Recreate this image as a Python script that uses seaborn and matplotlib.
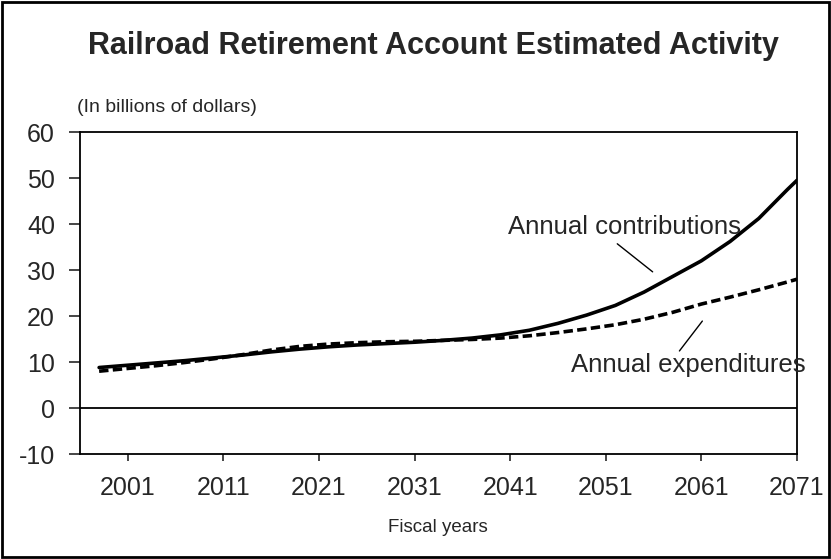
import matplotlib
matplotlib.use("Agg")
import matplotlib.pyplot as plt
from matplotlib.patches import Rectangle
import pandas as pd
import seaborn as sns

# values (billions of dollars)
years = [1998, 2001, 2004, 2007, 2010, 2013, 2016, 2019, 2022, 2025, 2028, 2031, 2034,
         2037, 2040, 2043, 2046, 2049, 2052, 2055, 2058, 2061, 2064, 2067, 2070, 2071]
contributions = [8.8, 9.3, 9.8, 10.3, 10.9, 11.5, 12.2, 12.8, 13.3, 13.7, 14.0, 14.3, 14.7,
                 15.2, 15.9, 16.9, 18.4, 20.2, 22.3, 25.2, 28.6, 32.0, 36.2, 41.2, 47.5, 49.5]
expenditures = [8.0, 8.6, 9.2, 9.9, 10.7, 11.6, 12.6, 13.4, 13.9, 14.2, 14.4, 14.5, 14.7,
                14.9, 15.2, 15.7, 16.4, 17.2, 18.1, 19.3, 20.8, 22.6, 24.1, 25.7, 27.4, 28.0]
x_ticks = [2001, 2011, 2021, 2031, 2041, 2051, 2061, 2071]
y_ticks = [-10, 0, 10, 20, 30, 40, 50, 60]

df = pd.DataFrame({"year": years, "contrib": contributions, "expend": expenditures})

sns.set_style("white")
plt.rcParams["font.family"] = ["Liberation Sans", "DejaVu Sans"]
plt.rcParams["axes.unicode_minus"] = False

fig = plt.figure(figsize=(8.31, 5.59), dpi=100)
ax = fig.add_axes([80 / 831, 1 - 454 / 559, 717 / 831, 322 / 559])

sns.lineplot(data=df, x="year", y="contrib", ax=ax, color="black", linewidth=2.6)
sns.lineplot(data=df, x="year", y="expend", ax=ax, color="black", linewidth=2.6)
ax.lines[-1].set_dashes((2.6, 1.2))
ax.lines[-1].set_dash_capstyle("butt")
ax.axhline(0, color="black", linewidth=1.3)

ax.set_xlim(1996, 2071)
ax.set_ylim(-10, 60)
ax.set_xticks(x_ticks)
ax.set_yticks(y_ticks)
ax.tick_params(axis="y", direction="out", length=8, width=1.2, pad=10, labelsize=18, left=True)
ax.tick_params(axis="x", direction="out", length=5, width=1.2, pad=11, labelsize=18, bottom=True)
for s in ax.spines.values():
    s.set_color("black")
    s.set_linewidth(1.3)
ax.set_xlabel("")
ax.set_ylabel("")

# annotations
ax.text(2053.0, 39.3, "Annual contributions", fontsize=18.5, ha="center", va="center")
ax.plot([2052.2, 2055.9], [35.7, 29.6], color="black", linewidth=1)
ax.text(2059.6, 9.3, "Annual expenditures", fontsize=18.5, ha="center", va="center")
ax.plot([2061.1, 2058.7], [18.9, 12.4], color="black", linewidth=1)

fig.text(433 / 831, 1 - 46 / 559, "Railroad Retirement Account Estimated Activity",
         fontsize=22, fontweight="bold", ha="center", va="center")
fig.text(77 / 831, 1 - 107 / 559, "(In billions of dollars)", fontsize=14, ha="left", va="center")
fig.text(438 / 831, 1 - 528 / 559, "Fiscal years", fontsize=13.5, ha="center", va="center")

fig.patches.append(Rectangle((0.002, 0.003), 0.996, 0.994, transform=fig.transFigure,
                             fill=False, edgecolor="black", linewidth=2))

fig.savefig("out.png", dpi=100)
